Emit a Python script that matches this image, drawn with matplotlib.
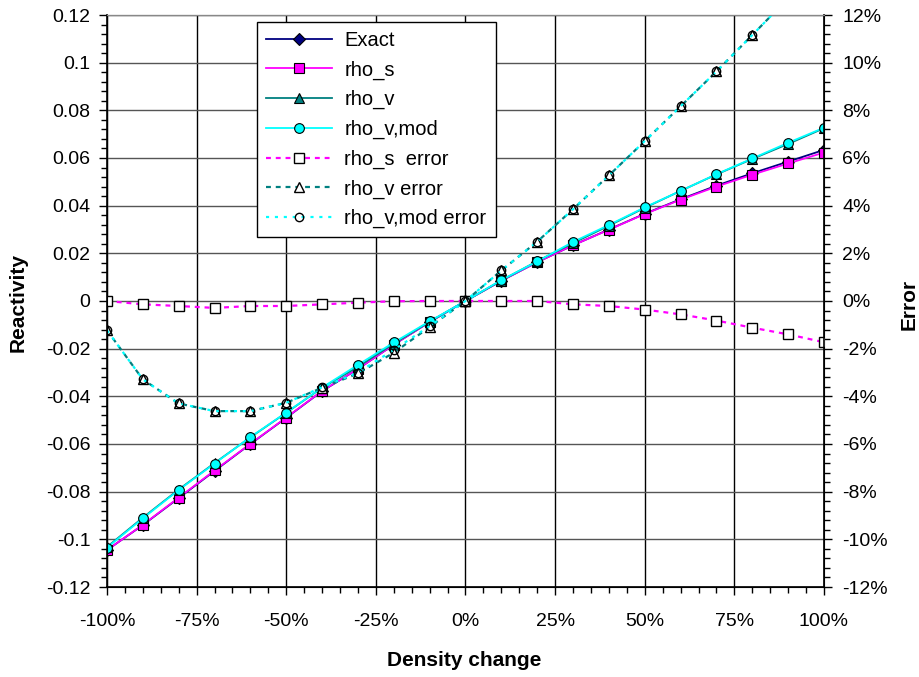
import matplotlib
matplotlib.use("Agg")
import matplotlib.pyplot as plt
from matplotlib.ticker import MultipleLocator, PercentFormatter, FuncFormatter

plt.rcParams["font.family"] = ["Liberation Sans", "DejaVu Sans"]
plt.rcParams["axes.unicode_minus"] = False

# density change (fraction)
density = [-1.0, -0.9, -0.8, -0.7, -0.6, -0.5, -0.4, -0.3, -0.2, -0.1, 0.0,
           0.1, 0.2, 0.3, 0.4, 0.5, 0.6, 0.7, 0.8, 0.9, 1.0]

# reactivity series (left axis)
exact = [-0.1045, -0.0940, -0.0827, -0.0713, -0.0600, -0.0490, -0.0378, -0.0285, -0.0183, -0.0088, 0.0,
         0.0085, 0.0163, 0.0234, 0.0300, 0.0366, 0.0427, 0.0484, 0.0536, 0.0585, 0.0634]
rho_s = [-0.1045, -0.0939, -0.0825, -0.0711, -0.0599, -0.0489, -0.0377, -0.0285, -0.0183, -0.0088, 0.0,
         0.0085, 0.0163, 0.0234, 0.0299, 0.0365, 0.0425, 0.0480, 0.0530, 0.0577, 0.0623]
rho_v = [-0.1032, -0.0909, -0.0791, -0.0680, -0.0572, -0.0469, -0.0364, -0.0276, -0.0179, -0.0087, 0.0,
         0.0086, 0.0167, 0.0243, 0.0316, 0.0391, 0.0462, 0.0531, 0.0596, 0.0659, 0.0725]
rho_v_mod = [-0.1035, -0.0912, -0.0793, -0.0682, -0.0571, -0.0468, -0.0363, -0.0268, -0.0174, -0.0085, 0.0,
             0.0088, 0.0166, 0.0248, 0.0319, 0.0393, 0.0462, 0.0532, 0.0598, 0.0664, 0.0727]

# relative errors (right axis)
err_s = [0.0, -0.0014, -0.0021, -0.0029, -0.0021, -0.0021, -0.0014, -0.0007, -0.0001, 0.0, 0.0,
         0.0, 0.0, -0.0014, -0.0021, -0.0036, -0.0056, -0.0082, -0.0112, -0.0140, -0.0173]
err_v = [-0.0123, -0.0329, -0.0430, -0.0462, -0.0462, -0.0427, -0.0364, -0.0304, -0.0217, -0.0109, 0.0,
         0.0128, 0.0249, 0.0385, 0.0527, 0.0671, 0.0817, 0.0963, 0.1116, 0.1270, 0.1430]
err_v_mod = [-0.0123, -0.0329, -0.0430, -0.0462, -0.0462, -0.0427, -0.0362, -0.0300, -0.0205, -0.0105, 0.0,
             0.0128, 0.0249, 0.0385, 0.0527, 0.0671, 0.0817, 0.0963, 0.1116, 0.1270, 0.1430]

fig = plt.figure(figsize=(9.2, 6.77), dpi=100)
ax = fig.add_axes([107 / 920, 90 / 677, 717 / 920, 572 / 677])
ax2 = ax.twinx()

# reactivity curves
ax.plot(density, exact, color="#000080", lw=1.3, marker="D", ms=6,
        mfc="#000080", mec="black", mew=0.8, label="Exact")
ax.plot(density, rho_s, color="#FF00FF", lw=1.3, marker="s", ms=6.5,
        mfc="#FF00FF", mec="black", mew=0.8, label="rho_s")
ax.plot(density, rho_v, color="#008080", lw=1.3, marker="^", ms=7.5,
        mfc="#008080", mec="black", mew=0.8, label="rho_v")
ax.plot(density, rho_v_mod, color="#00FFFF", lw=1.3, marker="o", ms=7,
        mfc="#00FFFF", mec="black", mew=0.8, label="rho_v,mod")

# errors on secondary axis
ax2.plot(density, err_s, color="#FF00FF", lw=1.6, ls=(0, (2.2, 2.2)), marker="s", ms=7,
         mfc="white", mec="black", mew=1.0, label="rho_s  error")
ax2.plot(density, err_v, color="#008080", lw=1.6, ls=(0, (2.2, 2.2)), marker="^", ms=7.5,
         mfc="white", mec="black", mew=1.0, label="rho_v error")
ax2.plot(density, err_v_mod, color="#00FFFF", lw=1.6, ls=(0, (1.4, 2.6)), marker="o", ms=6,
         mfc="none", mec="black", mew=1.0, label="rho_v,mod error")

ax.set_xlim(-1, 1)
ax.set_ylim(-0.12, 0.12)
ax2.set_ylim(-0.12, 0.12)

ax.xaxis.set_major_locator(MultipleLocator(0.25))
ax.xaxis.set_minor_locator(MultipleLocator(0.05))
ax.xaxis.set_major_formatter(PercentFormatter(xmax=1, decimals=0))
ax.yaxis.set_major_locator(MultipleLocator(0.02))
ax.yaxis.set_minor_locator(MultipleLocator(0.004))
ax.yaxis.set_major_formatter(FuncFormatter(lambda v, p: "{:g}".format(round(v, 2))))
ax2.yaxis.set_major_locator(MultipleLocator(0.02))
ax2.yaxis.set_minor_locator(MultipleLocator(0.004))
ax2.yaxis.set_major_formatter(PercentFormatter(xmax=1, decimals=0))

ax.tick_params(axis="both", which="major", direction="out", length=6, width=1, labelsize=14, color="black")
ax.tick_params(axis="x", which="major", pad=13)
ax.tick_params(axis="y", which="major", pad=6)
ax.tick_params(axis="both", which="minor", direction="out", length=4, width=1, color="black")
ax2.tick_params(axis="y", which="major", direction="out", length=6, width=1, labelsize=14, pad=7)
ax2.tick_params(axis="y", which="minor", direction="out", length=4, width=1)

ax.grid(True, axis="x", which="major", color="black", lw=1.0)
ax.grid(True, axis="y", which="major", color="#555555", lw=1.0)
ax.set_axisbelow(True)

for s in ["left", "bottom"]:
    ax.spines[s].set_color("black")
    ax.spines[s].set_linewidth(1.2)
ax2.spines["right"].set_color("black")
ax2.spines["right"].set_linewidth(1.2)
ax2.spines["top"].set_color("#888888")

fig.text(18 / 920, 1 - 302 / 677, "Reactivity", rotation=90, ha="center", va="center",
         fontsize=15, fontweight="bold")
fig.text(909 / 920, 1 - 304 / 677, "Error", rotation=90, ha="center", va="center",
         fontsize=15, fontweight="bold")
fig.text(464 / 920, 1 - 660 / 677, "Density change", ha="center", va="center",
         fontsize=15, fontweight="bold")

h1, l1 = ax.get_legend_handles_labels()
h2, l2 = ax2.get_legend_handles_labels()
leg = ax2.legend(h1 + h2, l1 + l2, loc="upper left", bbox_to_anchor=(0.209, 0.988),
                 borderaxespad=0, fontsize=14.5, numpoints=1, handlelength=3.3,
                 handletextpad=0.6, fancybox=False, framealpha=1, edgecolor="black",
                 labelspacing=0.52, borderpad=0.45)
leg.get_frame().set_linewidth(1.0)

fig.savefig("out.png", dpi=100)
